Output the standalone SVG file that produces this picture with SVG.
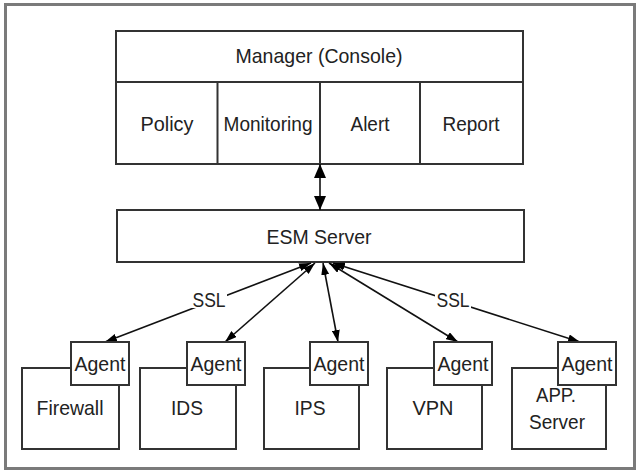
<svg xmlns="http://www.w3.org/2000/svg" width="638" height="472" viewBox="0 0 638 472">
<defs>
<style>
.box{fill:#fff;stroke:#333;stroke-width:2}
.t{font-family:"Liberation Sans",Arial,sans-serif;font-size:21px;fill:#222;text-anchor:middle}
.c{stroke:#111;stroke-width:1.6;fill:none}
</style>
<marker id="ah" viewBox="0 0 12 8" refX="12" refY="4" markerWidth="12" markerHeight="8" markerUnits="userSpaceOnUse" orient="auto-start-reverse">
<path d="M0,0 L12,4 L0,8 z" fill="#000"/>
</marker>
<marker id="ahb" viewBox="0 0 14 12" refX="14" refY="6" markerWidth="14" markerHeight="12" markerUnits="userSpaceOnUse" orient="auto-start-reverse">
<path d="M0,0 L14,6 L0,12 z" fill="#000"/>
</marker>
</defs>
<rect x="0" y="0" width="638" height="472" fill="#fff"/>
<rect x="5.5" y="4.5" width="629" height="464" fill="none" stroke="#7a7a7a" stroke-width="3"/>

<g id="manager">
<rect class="box" x="116" y="31" width="407" height="133"/>
<line class="box" x1="116" y1="82" x2="523" y2="82"/>
<line class="box" x1="217.5" y1="82" x2="217.5" y2="164"/>
<line class="box" x1="320" y1="82" x2="320" y2="164"/>
<line class="box" x1="420" y1="82" x2="420" y2="164"/>
<text class="t" x="319" y="63" textLength="167" lengthAdjust="spacingAndGlyphs">Manager (Console)</text>
<text class="t" x="167" y="131" textLength="53" lengthAdjust="spacingAndGlyphs">Policy</text>
<text class="t" x="268" y="131" textLength="89" lengthAdjust="spacingAndGlyphs">Monitoring</text>
<text class="t" x="370" y="131" textLength="39" lengthAdjust="spacingAndGlyphs">Alert</text>
<text class="t" x="471" y="131" textLength="57" lengthAdjust="spacingAndGlyphs">Report</text>
</g>

<g id="esm">
<rect class="box" x="117" y="210" width="407" height="52"/>
<text class="t" x="319" y="244" textLength="105" lengthAdjust="spacingAndGlyphs">ESM Server</text>
</g>

<g id="connectors">
<line class="c" x1="320" y1="164" x2="320" y2="210" marker-start="url(#ahb)" marker-end="url(#ahb)"/>
<line class="c" x1="311" y1="263" x2="105" y2="342" marker-start="url(#ah)" marker-end="url(#ah)"/>
<line class="c" x1="315" y1="263" x2="225" y2="342" marker-start="url(#ah)" marker-end="url(#ah)"/>
<line class="c" x1="323" y1="263" x2="338" y2="342" marker-start="url(#ah)" marker-end="url(#ah)"/>
<line class="c" x1="329" y1="263" x2="458" y2="342" marker-start="url(#ah)" marker-end="url(#ah)"/>
<line class="c" x1="333" y1="263" x2="580" y2="342" marker-start="url(#ah)" marker-end="url(#ah)"/>
<rect x="191" y="288" width="36" height="20" fill="#fff"/>
<text class="t" x="209" y="307" textLength="33" lengthAdjust="spacingAndGlyphs">SSL</text>
<rect x="435" y="288" width="36" height="20" fill="#fff"/>
<text class="t" x="453" y="307" textLength="33" lengthAdjust="spacingAndGlyphs">SSL</text>
</g>

<g id="firewall">
<rect class="box" x="22" y="368" width="97" height="81"/>
<text class="t" x="70" y="415" textLength="67" lengthAdjust="spacingAndGlyphs">Firewall</text>
<rect class="box" x="71" y="342" width="58" height="43"/>
<text class="t" x="100" y="371" textLength="51" lengthAdjust="spacingAndGlyphs">Agent</text>
</g>
<g id="ids">
<rect class="box" x="140" y="368" width="96" height="81"/>
<text class="t" x="187" y="415" textLength="32" lengthAdjust="spacingAndGlyphs">IDS</text>
<rect class="box" x="187" y="342" width="58" height="43"/>
<text class="t" x="216" y="371" textLength="51" lengthAdjust="spacingAndGlyphs">Agent</text>
</g>
<g id="ips">
<rect class="box" x="264" y="368" width="95" height="81"/>
<text class="t" x="310" y="415" textLength="31" lengthAdjust="spacingAndGlyphs">IPS</text>
<rect class="box" x="310" y="342" width="58" height="43"/>
<text class="t" x="339" y="371" textLength="51" lengthAdjust="spacingAndGlyphs">Agent</text>
</g>
<g id="vpn">
<rect class="box" x="387" y="368" width="95" height="81"/>
<text class="t" x="433" y="415" textLength="41" lengthAdjust="spacingAndGlyphs">VPN</text>
<rect class="box" x="434" y="342" width="58" height="43"/>
<text class="t" x="463" y="371" textLength="51" lengthAdjust="spacingAndGlyphs">Agent</text>
</g>
<g id="app">
<rect class="box" x="512" y="368" width="94" height="81"/>
<text class="t" x="556" y="402" textLength="40" lengthAdjust="spacingAndGlyphs">APP.</text>
<text class="t" x="557" y="429" textLength="56" lengthAdjust="spacingAndGlyphs">Server</text>
<rect class="box" x="558" y="342" width="58" height="43"/>
<text class="t" x="587" y="371" textLength="51" lengthAdjust="spacingAndGlyphs">Agent</text>
</g>
</svg>
